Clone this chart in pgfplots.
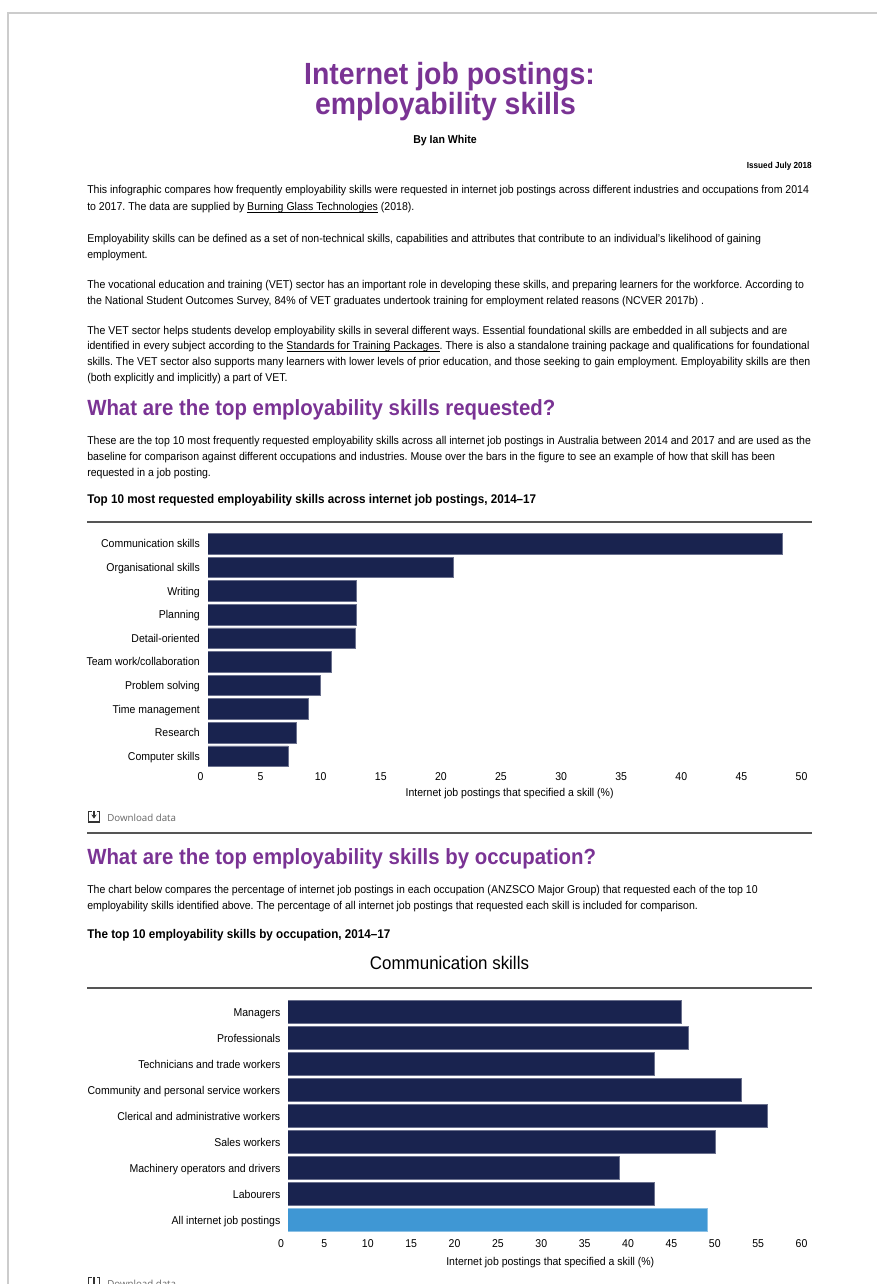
\documentclass[border=0pt]{standalone}
\usepackage{fontspec}
\setmainfont[FakeStretch=0.927]{Liberation Sans}
\newfontfamily\dlfont{Open Sans}
\usepackage{pgfplots}
\pgfplotsset{compat=1.18}
\usetikzlibrary{arrows.meta}
\definecolor{purp}{HTML}{7A3394}
\definecolor{navy}{HTML}{19234F}
\definecolor{skyb}{HTML}{3F97D4}
\definecolor{rulec}{HTML}{555555}
\definecolor{framec}{HTML}{CCCCCC}
\frenchspacing
\newcommand{\fs}[1]{\fontsize{#1}{#1}\selectfont}
\newcommand{\ul}[1]{\underline{\smash{#1}}}
% body line: x, baseline y, text
\newcommand{\tl}[3]{\node[anchor=base west,inner sep=0pt,font=\fs{8.53}] at (#1,#2) {#3};}
\newcommand{\hd}[2]{\node[anchor=base west,inner sep=0pt,font=\fs{16.5}\bfseries,text=purp] at (87,#1) {#2};}
\pgfplotsset{barchart/.style={
  scale only axis,
  clip=false,
  xbar,
  y dir=reverse,
  xmin=0,
  ymin=-0.5,
  axis line style={draw=none},
  tick style={draw=none},
  major tick length=0pt,
  ticklabel style={font=\fs{8.5}},
  /pgf/number format/assume math mode=true,
  yticklabel style={xshift=3pt,yshift=-0.75pt,text height=6.2pt,text depth=1.6pt},
  xlabel near ticks,
}}
\begin{document}
\begin{tikzpicture}[x=0.75pt,y=-0.75pt]
\useasboundingbox (0,0) rectangle (877,1284);
\clip (0,0) rectangle (877,1284);
\draw[framec,line width=1pt] (877,13) -- (8,13) -- (8,1284);

\node[inner sep=0pt,font=\fs{23}\bfseries,text=purp] at (449.5,77) {Internet job postings:};
\node[inner sep=0pt,font=\fs{23}\bfseries,text=purp] at (445.5,107) {employability skills};
\node[inner sep=0pt,font=\fs{8.55}\bfseries] at (445,141) {By Ian White};
\node[anchor=base east,inner sep=0pt,font=\fs{6.6}\bfseries] at (812,168) {Issued July 2018};

\tl{87}{194}{This infographic compares how frequently employability skills were requested in internet job postings across different industries and occupations from 2014}
\tl{87}{210}{to 2017. The data are supplied by \ul{Burning Glass Technologies} (2018).}
\tl{87}{242}{Employability skills can be defined as a set of non-technical skills, capabilities and attributes that contribute to an individual's likelihood of gaining}
\tl{87}{258}{employment.}
\tl{87}{288}{The vocational education and training (VET) sector has an important role in developing these skills, and preparing learners for the workforce. According to}
\tl{87}{304}{the National Student Outcomes Survey, 84\% of VET graduates undertook training for employment related reasons (NCVER 2017b) .}
\tl{87}{334}{The VET sector helps students develop employability skills in several different ways. Essential foundational skills are embedded in all subjects and are}
\tl{87}{349}{identified in every subject according to the \ul{Standards for Training Packages}. There is also a standalone training package and qualifications for foundational}
\tl{87}{365}{skills. The VET sector also supports many learners with lower levels of prior education, and those seeking to gain employment. Employability skills are then}
\tl{87}{381}{(both explicitly and implicitly) a part of VET.}

\hd{415}{What are the top employability skills requested?}
\tl{87}{444}{These are the top 10 most frequently requested employability skills across all internet job postings in Australia between 2014 and 2017 and are used as the}
\tl{87}{460}{baseline for comparison against different occupations and industries. Mouse over the bars in the figure to see an example of how that skill has been}
\tl{87}{476}{requested in a job posting.}
\node[anchor=base west,inner sep=0pt,font=\fs{9.45}\bfseries] at (87,503.5) {Top 10 most requested employability skills across internet job postings, 2014--17};
\draw[rulec,line width=1.1pt] (87,522) -- (812,522);

\coordinate (a1) at (200.5,532);
\begin{axis}[barchart,
  at={(a1)},anchor=north west,
  width=450.75pt,height=177pt,
  xmax=50,ymax=9.5,
  xtick={0,5,...,50},
  ytick={0,...,9},
  yticklabels={Communication skills,Organisational skills,Writing,Planning,Detail-oriented,Team work/collaboration,Problem solving,Time management,Research,Computer skills},
  xlabel={Internet job postings that specified a skill (\%)},
  xlabel style={font=\fs{8.5},xshift=6.5pt,yshift=1pt},
]
\addplot[fill=navy,draw=navy!65!white,line width=0.45pt,bar width=15.5pt,bar shift=0pt] coordinates {
  (48.4,0) (21.0,1) (13.0,2) (13.0,3) (12.9,4) (10.9,5) (10.0,6) (9.0,7) (7.95,8) (7.3,9)};
% the page hides the first few pixels of each bar
\fill[white] (axis cs:-0.05,-0.6) rectangle (axis cs:0.62,9.6);
\end{axis}

\draw[line width=1pt,black!80] (91.5,811.5) -- (88.5,811.5) -- (88.5,822) -- (99.5,822) -- (99.5,811.5) -- (96.5,811.5);
\draw[line width=1pt,black!80,-{Stealth[length=3pt,width=4pt]}] (94,810.5) -- (94,818.5);
\node[anchor=base west,inner sep=0pt,font=\dlfont\fs{7.3},text=black!60] at (107,821) {Download data};
\draw[rulec,line width=1.1pt] (87,833) -- (812,833);

\hd{864}{What are the top employability skills by occupation?}
\tl{87}{893}{The chart below compares the percentage of internet job postings in each occupation (ANZSCO Major Group) that requested each of the top 10}
\tl{87}{909}{employability skills identified above. The percentage of all internet job postings that requested each skill is included for comparison.}
\node[anchor=base west,inner sep=0pt,font=\fs{9.45}\bfseries] at (87,938) {The top 10 employability skills by occupation, 2014--17};
\node[inner sep=0pt,font=\fs{13.7}] at (449.5,963) {Communication skills};
\draw[rulec,line width=1.1pt] (87,988) -- (812,988);

\coordinate (a2) at (281,999);
\begin{axis}[barchart,
  at={(a2)},anchor=north west,
  width=390.4pt,height=175.5pt,
  xmax=60,ymax=8.5,
  xtick={0,5,...,60},
  ytick={0,...,8},
  xticklabel style={yshift=-1.5pt},
  yticklabels={Managers,Professionals,Technicians and trade workers,Community and personal service workers,Clerical and administrative workers,Sales workers,Machinery operators and drivers,Labourers,All internet job postings},
  xlabel={Internet job postings that specified a skill (\%)},
  xlabel style={font=\fs{8.5},xshift=6.75pt,yshift=0pt},
]
\addplot[fill=navy,draw=navy!65!white,line width=0.45pt,bar width=17.3pt,bar shift=0pt] coordinates {
  (46.1,0) (47.0,1) (43.05,2) (53.1,3) (56.1,4) (50.1,5) (39.05,6) (43.05,7)};
\addplot[fill=skyb,draw=skyb!60!white,line width=0.45pt,bar width=17.3pt,bar shift=0pt] coordinates {(49.1,8)};
\fill[white] (axis cs:-0.05,-0.6) rectangle (axis cs:0.85,8.6);
\end{axis}

\draw[line width=1pt,black!80] (91.5,1277.5) -- (88.5,1277.5) -- (88.5,1290) -- (99.5,1290) -- (99.5,1277.5) -- (96.5,1277.5);
\draw[line width=1pt,black!80] (94,1277) -- (94,1284);
\node[anchor=base west,inner sep=0pt,font=\dlfont\fs{7.3},text=black!60] at (107,1287) {Download data};
\end{tikzpicture}
\end{document}
